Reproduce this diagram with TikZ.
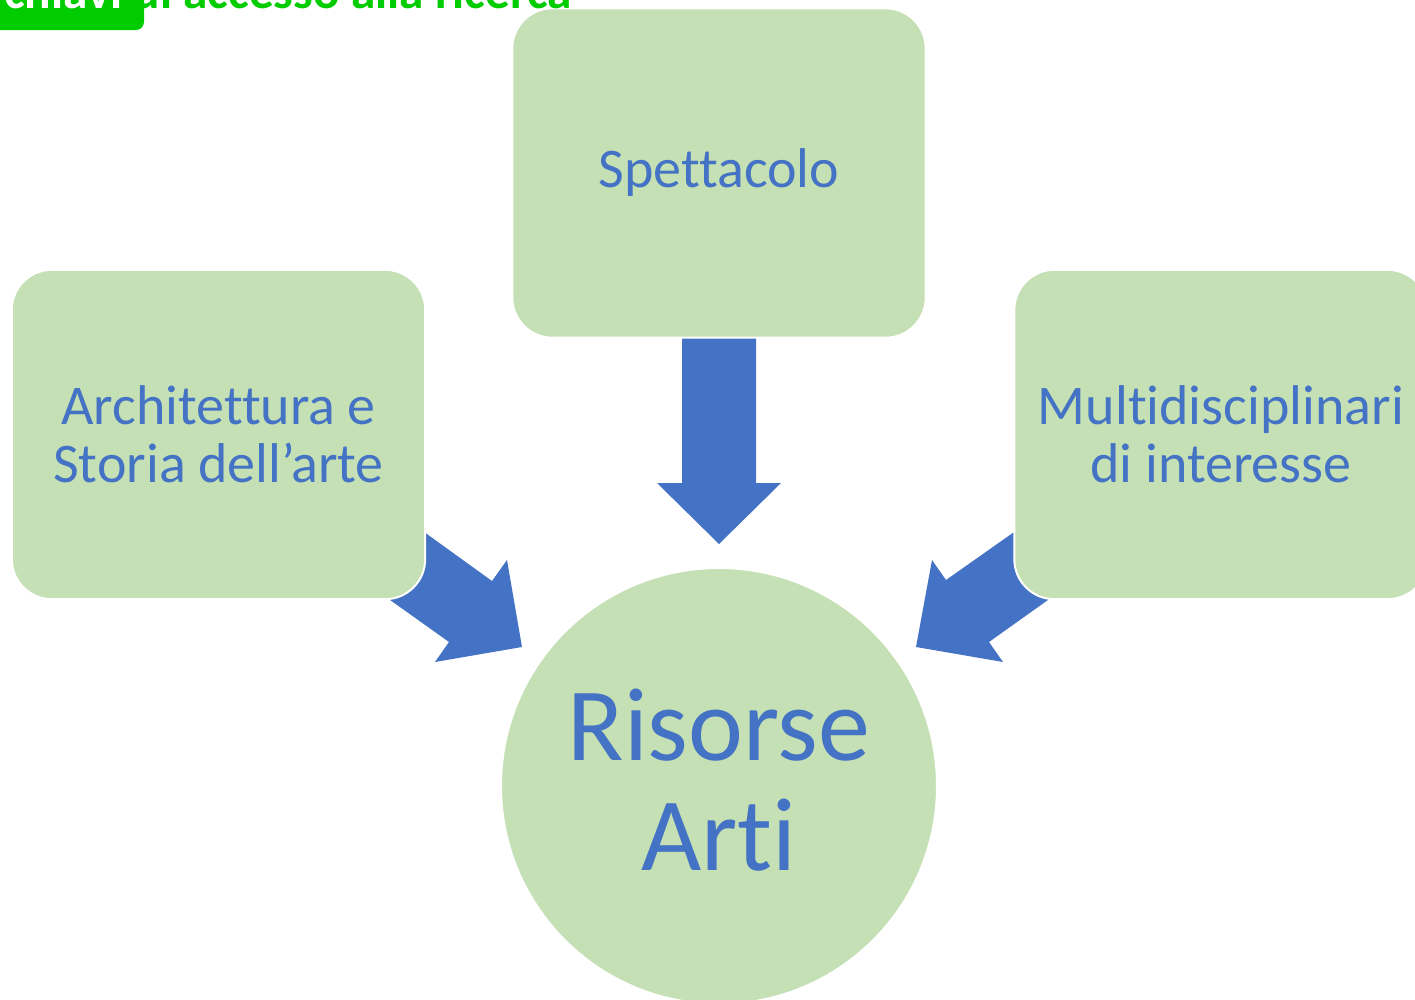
\documentclass[tikz,border=0pt]{standalone}
\usepackage{fontspec}
\setmainfont{Carlito}[Ligatures=NoCommon]
\definecolor{boxgreen}{HTML}{C5E0B4}
\definecolor{txtblue}{HTML}{4472C4}
\definecolor{lblgreen}{HTML}{00CC00}
\tikzset{
  blk/.style={rectangle, rounded corners=30pt, fill=boxgreen, draw=white, line width=1.5pt,
     minimum width=310pt, minimum height=247pt, text=txtblue, font=\fontsize{42}{43.5}\selectfont, align=center, inner sep=0pt},
  hub/.style={circle, fill=boxgreen, draw=white, line width=1.5pt, minimum size=327pt, inner sep=0pt},
  hubtext/.style={text=txtblue, font=\fontsize{78}{82}\selectfont, align=center, inner sep=0pt},
  blockarrow/.style={fill=txtblue, draw=none},
}
\begin{document}
\begin{tikzpicture}[x=0.75pt,y=-0.75pt]
\useasboundingbox (0,0) rectangle (1415,1000);
\clip (0,0) rectangle (1415,1000);
% block arrows (drawn under boxes)
\fill[blockarrow] (377,498) -- (492,581) -- (507,560) -- (522,647) -- (435,662) -- (449,642) -- (348,570) -- cycle;
\fill[blockarrow] (1061,499) -- (946,580) -- (932,560) -- (916,647) -- (1003,662) -- (989,642) -- (1090,570) -- cycle;
\fill[blockarrow] (682,330) -- (756,330) -- (756,483) -- (781,483) -- (719,544) -- (657,483) -- (682,483) -- cycle;
% boxes
\node[blk] (arch) at (218.5,434.5) {Architettura e\\Storia dell’arte};
\node[blk] (spet) at (719,173) {Spettacolo};
\node[blk] (multi) at (1221,434.5) {Multidisciplinari\\di interesse};
\node[hub, label={[hubtext, yshift=4.5pt]center:{Risorse\\Arti}}] (ris) at (719,786) {};
% title label, cut at top
\fill[lblgreen, rounded corners=6pt] (-10,-30) rectangle (144,30);
\node[anchor=base west, inner sep=0pt, font=\bfseries\fontsize{37}{40}\selectfont] (title) at (4,8)
  {\textcolor{white}{chiavi} \textcolor{lblgreen}{di accesso alla ricerca}};
\end{tikzpicture}
\end{document}
